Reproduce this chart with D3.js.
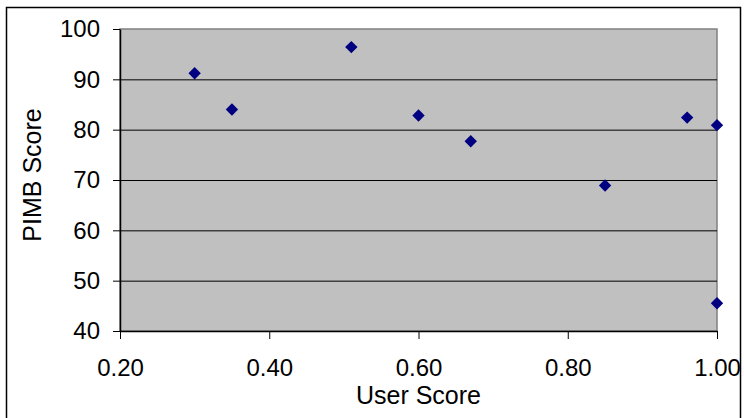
<!DOCTYPE html>
<html>
<head>
<meta charset="utf-8">
<script src="https://cdn.jsdelivr.net/npm/d3@7"></script>
<style>
  body { margin: 0; background: #fff; }
  svg { display: block; font-family: "Liberation Sans", Arial, sans-serif; }
</style>
</head>
<body>
<svg width="744" height="418"></svg>
<script>
var userScore = [0.30, 0.35, 0.51, 0.60, 0.67, 0.85, 0.96, 1.00, 1.00];
var pimbScore = [91.2, 84.0, 96.4, 82.8, 77.7, 68.9, 82.4, 80.9, 45.5];
var xTicks = [0.2, 0.4, 0.6, 0.8, 1.0];
var yTicks = [40, 50, 60, 70, 80, 90, 100];

var svg = d3.select('svg');
var plot = {l: 120, t: 29, r: 717, b: 331};

var xScale = d3.scaleLinear().domain([0.2, 1.0]).range([plot.l, plot.r]);
var yScale = d3.scaleLinear().domain([40, 100]).range([plot.b, plot.t]);

// outer chart border
svg.append('rect')
    .attr('x', 6.5).attr('y', 7.5)
    .attr('width', 734).attr('height', 420)
    .style('fill', 'none')
    .style('stroke', '#000')
    .style('stroke-width', 1.5);

// plot area
svg.append('rect')
    .attr('x', plot.l).attr('y', plot.t)
    .attr('width', plot.r - plot.l).attr('height', plot.b - plot.t)
    .style('fill', '#c0c0c0')
    .style('stroke', '#808080')
    .style('stroke-width', 1.5);

// gridlines
svg.append('g')
    .selectAll('line')
    .data(yTicks.filter(d => d > 40 && d < 100))
    .join('line')
    .attr('x1', plot.l).attr('x2', plot.r)
    .attr('y1', d => yScale(d) + 0.5).attr('y2', d => yScale(d) + 0.5)
    .style('stroke', '#000');

var yAxis = d3.axisLeft(yScale).tickValues(yTicks).tickSizeInner(7).tickSizeOuter(0).tickPadding(13);
var xAxis = d3.axisBottom(xScale).tickValues(xTicks).tickFormat(d3.format('.2f')).tickSizeInner(8).tickSizeOuter(0).tickPadding(20);

var gy = svg.append('g')
    .attr('transform', 'translate(' + plot.l + ',0)')
    .call(yAxis);

var gx = svg.append('g')
    .attr('transform', 'translate(0,' + plot.b + ')')
    .call(xAxis);

[gx, gy].forEach(function(g) {
    g.selectAll('.domain').style('stroke', '#000').style('stroke-width', 1.5);
    g.selectAll('.tick line').style('stroke', '#000');
    g.selectAll('.tick text')
        .style('font-family', '"Liberation Sans", Arial, sans-serif')
        .style('font-size', '24px')
        .style('fill', '#000');
});

// points
var symbol = d3.symbol().type(d3.symbolDiamond2).size(98);
svg.append('g')
    .selectAll('path')
    .data(userScore.map((d, i) => ({x: d, y: pimbScore[i]})))
    .join('path')
    .attr('d', symbol)
    .attr('transform', d => 'translate(' + xScale(d.x) + ',' + yScale(d.y) + ')')
    .style('fill', '#000080');

svg.append('text')
    .text('User Score')
    .attr('x', (plot.l + plot.r) / 2)
    .attr('y', 404)
    .attr('text-anchor', 'middle')
    .style('font-size', '25px');

svg.append('text')
    .text('PIMB Score')
    .attr('transform', 'translate(41,175) rotate(-90)')
    .attr('text-anchor', 'middle')
    .style('font-size', '25px');
</script>
</body>
</html>
